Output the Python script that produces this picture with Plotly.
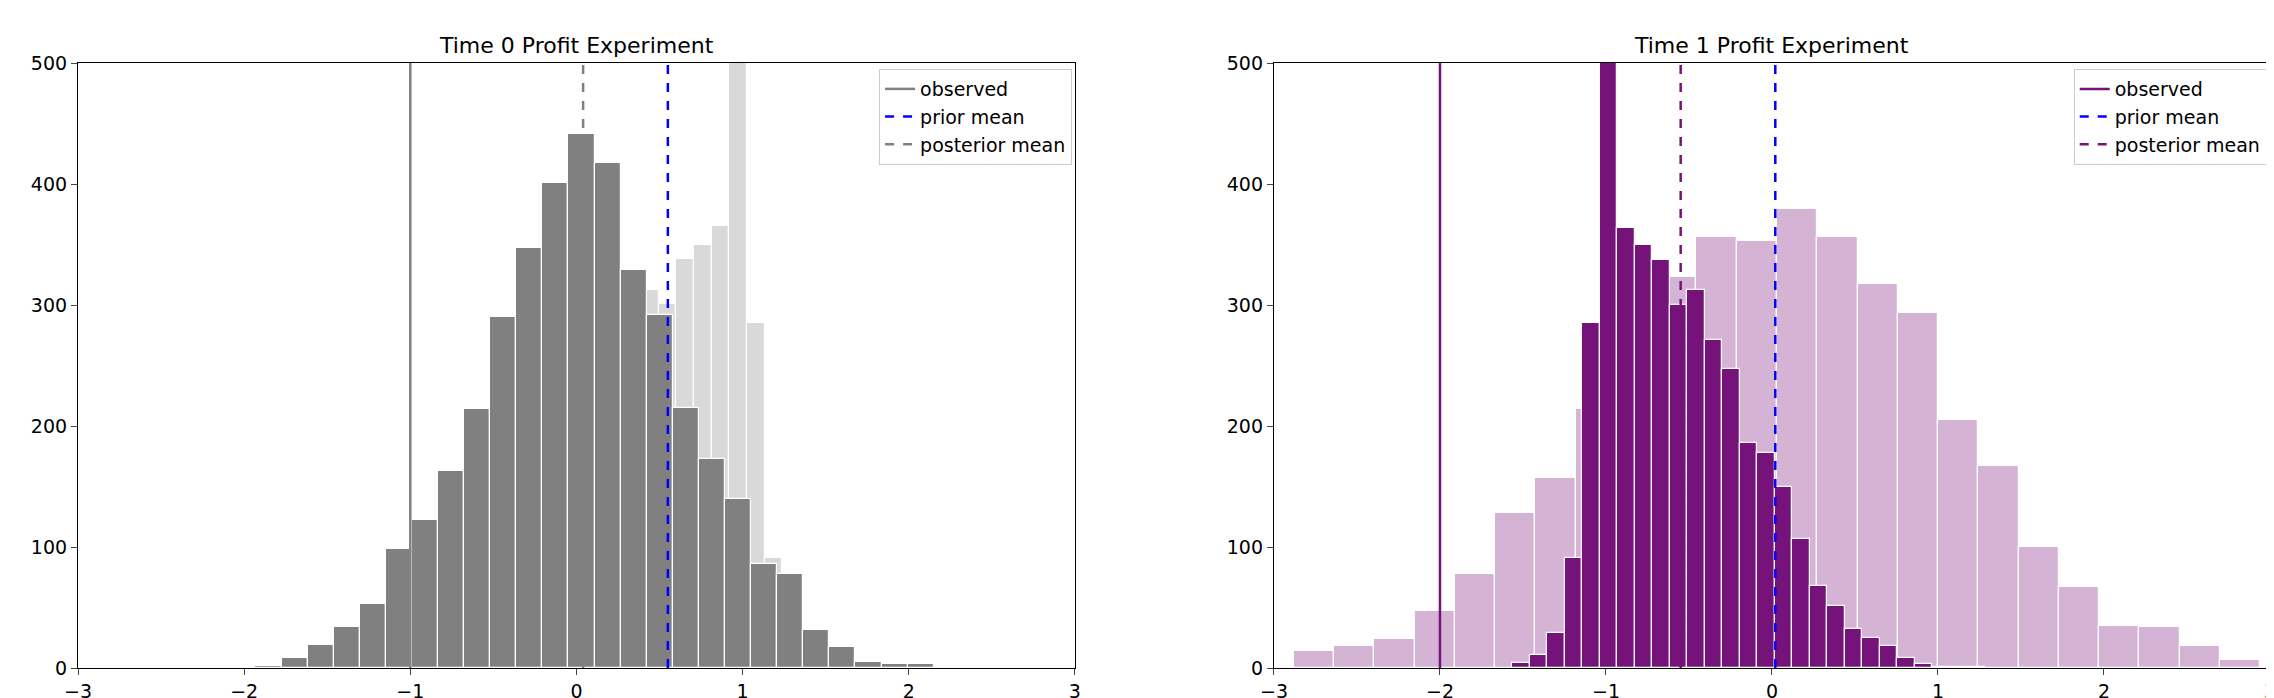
import numpy as np
import plotly.graph_objects as go
from plotly.subplots import make_subplots

# Time 0 panel
t0_post_start = -2.56
t0_post_width = 0.157
t0_post_counts = [1, 0, 0, 1, 2, 8, 19, 34, 53, 98, 122, 163, 214, 290, 347, 401,
                  441, 417, 329, 292, 215, 173, 140, 86, 78, 31, 17, 5, 3, 3]
t0_prior_start = 0.39
t0_prior_width = 0.106
t0_prior_counts = [312, 301, 338, 350, 365, 620, 285, 91]
t0_observed = -1.0
t0_prior_mean = 0.55
t0_post_mean = 0.04

# Time 1 panel
t1_prior_start = -2.88
t1_prior_width = 0.2425
t1_prior_counts = [14, 18, 24, 47, 78, 128, 157, 214, 290, 323, 356, 353,
                   379, 356, 317, 293, 205, 167, 100, 67, 35, 34, 18, 7]
t1_post_start = -1.566
t1_post_width = 0.1055
t1_post_counts = [4, 11, 29, 91, 285, 620, 364, 350, 337, 300, 312, 271, 247,
                  186, 178, 150, 107, 68, 51, 32, 25, 18, 8, 3, 1, 1, 1]
t1_observed = -2.0
t1_prior_mean = 0.02
t1_post_mean = -0.55

GREY = '#808080'
LIGHT_GREY = '#d9d9d9'
PURPLE = '#75137a'
LIGHT_PURPLE = '#d4b3d5'


def centers(start, width, counts):
    return start + width * (np.arange(len(counts)) + 0.5)


def add_hist(fig, col, start, width, counts, color):
    fig.add_trace(go.Bar(
        x=centers(start, width, counts), y=counts, width=width,
        marker=dict(color=color, line=dict(color='white', width=1.2)),
        showlegend=False, hoverinfo='skip'), row=1, col=col)


def add_vline(fig, col, xv, color, dash, name, legend):
    fig.add_trace(go.Scatter(
        x=[xv, xv], y=[0, 500], mode='lines', name=name, legend=legend,
        line=dict(color=color, width=2.5, dash=dash)), row=1, col=col)


fig = make_subplots(rows=1, cols=2)
add_hist(fig, 1, t0_prior_start, t0_prior_width, t0_prior_counts, LIGHT_GREY)
add_hist(fig, 1, t0_post_start, t0_post_width, t0_post_counts, GREY)
add_vline(fig, 1, t0_observed, GREY, 'solid', 'observed', 'legend')
add_vline(fig, 1, t0_prior_mean, 'blue', 'dash', 'prior mean', 'legend')
add_vline(fig, 1, t0_post_mean, GREY, 'dash', 'posterior mean', 'legend')

add_hist(fig, 2, t1_prior_start, t1_prior_width, t1_prior_counts, LIGHT_PURPLE)
add_hist(fig, 2, t1_post_start, t1_post_width, t1_post_counts, PURPLE)
add_vline(fig, 2, t1_observed, PURPLE, 'solid', 'observed', 'legend2')
add_vline(fig, 2, t1_prior_mean, 'blue', 'dash', 'prior mean', 'legend2')
add_vline(fig, 2, t1_post_mean, PURPLE, 'dash', 'posterior mean', 'legend2')

axis = dict(range=[-3, 3], showgrid=False, zeroline=False, showline=True,
            linecolor='black', linewidth=1.2, mirror=True, ticks='outside', ticklen=6,
            tickfont=dict(size=19, color='black'), automargin=False)
yaxis = dict(axis, range=[0, 500], dtick=100)
leg = dict(bgcolor='white', bordercolor='#cccccc', borderwidth=1,
           font=dict(size=19, color='black'), xanchor='right', yanchor='top',
           tracegroupgap=0)

fig.update_layout(
    width=2274, height=698, plot_bgcolor='white', paper_bgcolor='white',
    margin=dict(l=70, r=12, t=55, b=38), barmode='overlay', bargap=0,
    font=dict(family='DejaVu Sans', color='black'),
    xaxis=dict(axis, domain=[0, 0.4548], anchor='y'),
    yaxis=dict(yaxis, domain=[0, 1], anchor='x'),
    xaxis2=dict(axis, domain=[0.5456, 1.0], anchor='y2'),
    yaxis2=dict(yaxis, domain=[0, 1], anchor='x2'),
    legend=dict(leg, x=0.4535, y=0.99),
    legend2=dict(leg, x=0.9985, y=0.99),
    annotations=[
        dict(text='Time 0 Profit Experiment', x=0.2274, y=1.005, xref='paper', yref='paper',
             xanchor='center', yanchor='bottom', showarrow=False, font=dict(size=22)),
        dict(text='Time 1 Profit Experiment', x=0.7728, y=1.005, xref='paper', yref='paper',
             xanchor='center', yanchor='bottom', showarrow=False, font=dict(size=22)),
    ],
)
fig.update_xaxes(tickvals=[-3, -2, -1, 0, 1, 2, 3],
                 ticktext=['\u22123', '\u22122', '\u22121', '0', '1', '2', '3'])

fig.write_html("out.html")
